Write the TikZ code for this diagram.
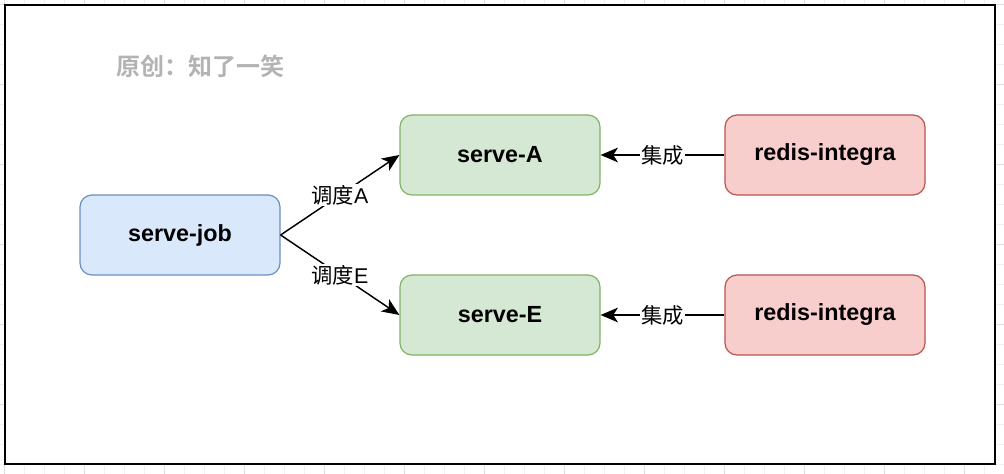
\documentclass[tikz,border=0pt]{standalone}
\usepackage{fontspec}
\setmainfont{Liberation Sans}
\newfontfamily\cjk{Noto Sans CJK SC}
\newfontfamily\cjkbold{Noto Sans CJK SC Bold}
\usetikzlibrary{arrows.meta}

\definecolor{jobfill}{HTML}{DAE8FC}
\definecolor{jobdraw}{HTML}{6C8EBF}
\definecolor{servefill}{HTML}{D5E8D4}
\definecolor{servedraw}{HTML}{82B366}
\definecolor{redisfill}{HTML}{F8CECC}
\definecolor{redisdraw}{HTML}{B85450}
\definecolor{titlegray}{HTML}{B3B3B3}

\begin{document}
\begin{tikzpicture}[x=0.75pt, y=-0.75pt, >={Stealth[length=13pt, width=11pt, inset=3.5pt]},
  box/.style={rounded corners=9pt, minimum width=150pt, minimum height=60pt, line width=0.9pt,
    inner sep=0pt, font=\fontsize{17.5}{20}\selectfont\bfseries},
  jobbox/.style={box, fill=jobfill, draw=jobdraw},
  servebox/.style={box, fill=servefill, draw=servedraw},
  redisbox/.style={box, fill=redisfill, draw=redisdraw},
  link/.style={->, line width=1.1pt},
  linklabel/.style={fill=white, inner sep=1pt, font=\fontsize{16}{18}\selectfont}]
\useasboundingbox (0,0) rectangle (1004,474);
\fill[white] (0,0) rectangle (1004,474);
\foreach \i in {0,...,50} \draw[black!6, line width=0.5pt] (4+20*\i,0) -- (4+20*\i,474);
\foreach \i in {0,...,23} \draw[black!6, line width=0.5pt] (0,4+20*\i) -- (1004,4+20*\i);
\foreach \i in {0,...,12} \draw[black!13, line width=0.5pt] (4+80*\i,0) -- (4+80*\i,474);
\foreach \i in {0,...,5} \draw[black!13, line width=0.5pt] (0,4+80*\i) -- (1004,4+80*\i);
\draw[line width=1.6pt, fill=white] (5,5) rectangle (995,464);

\node[text=titlegray, font=\cjkbold\fontsize{18}{20}\selectfont] (title) at (200,66) {原创：知了一笑};

\node[jobbox] (job) at (180,235) {\raisebox{-1.5pt}{serve-job}};
\node[servebox] (A) at (500,155) {\raisebox{-1.5pt}{serve-A}};
\node[servebox] (E) at (500,315) {\raisebox{-1.5pt}{serve-E}};
\node[redisbox] (RA) at (825,155) {\raisebox{-1.5pt}{redis-integra}};
\node[redisbox] (RE) at (825,315) {\raisebox{-1.5pt}{redis-integra}};

\path (job.east) edge[link] node[linklabel, midway] {{\cjk 调度}A} (A.west);
\path (job.east) edge[link] node[linklabel, midway] {{\cjk 调度}E} (E.west);
\path (RA.west) edge[link] node[linklabel, midway] {\cjk 集成} (A.east);
\path (RE.west) edge[link] node[linklabel, midway] {\cjk 集成} (E.east);
\end{tikzpicture}
\end{document}
